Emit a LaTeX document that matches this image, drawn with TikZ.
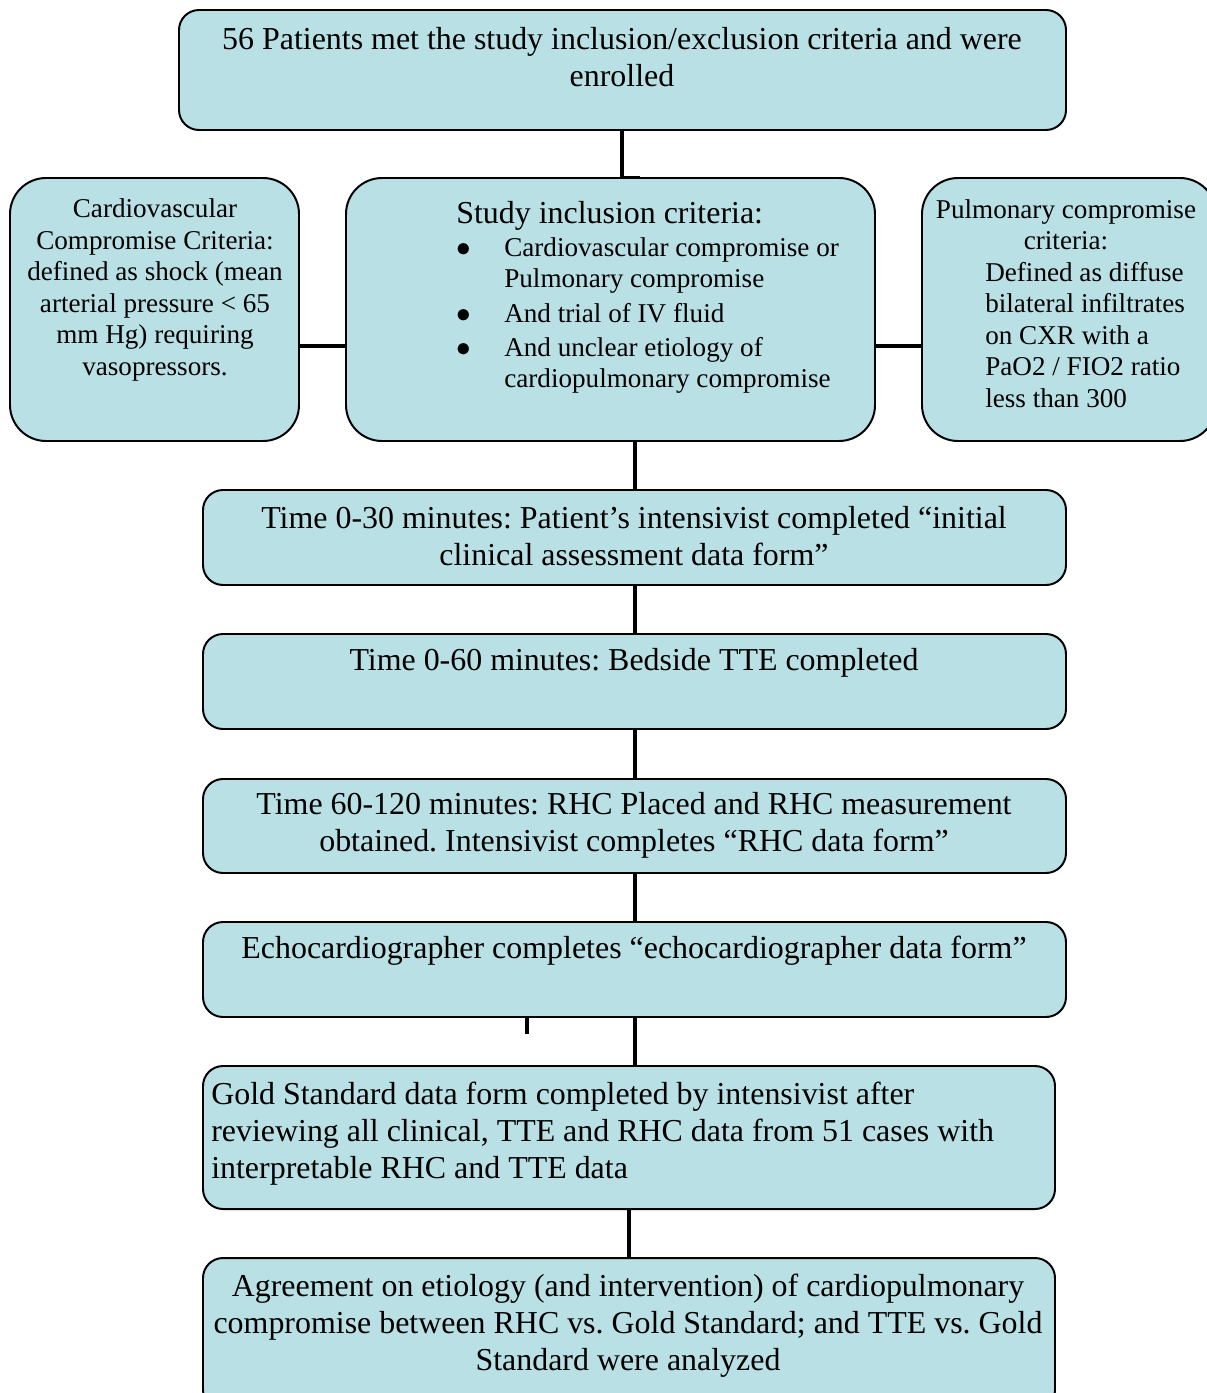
\documentclass[tikz,border=0pt]{standalone}
\usepackage{fontspec}
\setmainfont{Liberation Serif}
\usetikzlibrary{fit}
\definecolor{boxfill}{RGB}{185,224,228}
\frenchspacing
\newcommand{\blt}{\makebox[1.2cm][l]{$\bullet$}}

\begin{document}
\begin{tikzpicture}[x=0.025cm,y=-0.025cm,
  box/.style={draw,line width=1.4pt,fill=boxfill,rounded corners=0.5cm,inner sep=0pt},
  crit/.style={box,rounded corners=0.9cm},
  conn/.style={line width=3.5pt},
  bigtxt/.style={font=\fontsize{22.7}{26.4}\selectfont,align=center,inner sep=0pt},
  smalltxt/.style={font=\fontsize{19.3}{22.4}\selectfont,align=center,inner sep=0pt}]
  \useasboundingbox (0,0) rectangle (1206,1393);
  % boxes
  \node[box,fit={(179,10) (1066,130)}](enrol){};
  \node[crit,fit={(10,178) (299,441)}](cardio){};
  \node[crit,fit={(346,178) (875,441)}](incl){};
  \node[crit,fit={(922,178) (1216,441)}](pulm){};
  \node[box,fit={(203,490) (1066,585)}](t30){};
  \node[box,fit={(203,634) (1066,729)}](t60){};
  \node[box,fit={(203,779) (1066,873)}](t120){};
  \node[box,fit={(203,922) (1066,1017)}](echo){};
  \node[box,fit={(203,1066) (1055,1209)}](gold){};
  \node[box,fit={(203,1258) (1055,1410)}](agree){};
  % texts
  \node[bigtxt](enroltxt) at (622,57){56 Patients met the study inclusion/exclusion criteria and were\\enrolled};
  \node[smalltxt](cardiotxt) at (155,290){Cardiovascular\\Compromise Criteria:\\defined as shock (mean\\arterial pressure < 65\\mm Hg) requiring\\vasopressors.};
  \node[smalltxt,align=left,anchor=north west](incltxt) at (456,201){{\fontsize{22.7}{26.4}\selectfont Study inclusion criteria:}\\[1pt]
    \blt Cardiovascular compromise or\\
    \hspace*{1.2cm}Pulmonary compromise\\[2pt]
    \blt And trial of IV fluid\\[2pt]
    \blt And unclear etiology of\\
    \hspace*{1.2cm}cardiopulmonary compromise};
  \node[smalltxt](pulmhead) at (1066,225){Pulmonary compromise\\criteria:};
  \node[smalltxt,align=left,anchor=west](pulmtxt) at (985,335){Defined as diffuse\\bilateral infiltrates\\on CXR with a\\PaO2 / FIO2 ratio\\less than 300};
  \node[bigtxt](t30txt) at (634,536){Time 0-30 minutes: Patient's intensivist completed ``initial\\clinical assessment data form''};
  \node[bigtxt](t60txt) at (634,663){Time 0-60 minutes: Bedside TTE completed};
  \node[bigtxt](t120txt) at (634,825){Time 60-120 minutes: RHC Placed and RHC measurement\\obtained. Intensivist completes ``RHC data form''};
  \node[bigtxt](echotxt) at (634,951){Echocardiographer completes ``echocardiographer data form''};
  \node[bigtxt,align=left,anchor=west](goldtxt) at (211,1134){Gold Standard data form completed by intensivist after\\reviewing all clinical, TTE and RHC data from 51 cases with\\interpretable RHC and TTE data};
  \node[bigtxt](agreetxt) at (628,1326){Agreement on etiology (and intervention) of cardiopulmonary\\compromise between RHC vs. Gold Standard; and TTE vs. Gold\\Standard were analyzed};
  % connectors
  \coordinate (topx) at (622,0);
  \coordinate (spine) at (635,0);
  \coordinate (mid) at (0,346);
  \coordinate (stub) at (527,0);
  \coordinate (low) at (629,0);
  \draw[conn](enrol.south -| topx)--(incl.north -| topx);
  \draw[line width=1pt](incl.north -| topx)--++(18,0);
  \draw[conn](cardio.east |- mid)--(incl.west |- mid);
  \draw[conn](incl.east |- mid)--(pulm.west |- mid);
  \draw[conn](incl.south -| spine)--(t30.north -| spine);
  \draw[conn](t30.south -| spine)--(t60.north -| spine);
  \draw[conn](t60.south -| spine)--(t120.north -| spine);
  \draw[conn](t120.south -| spine)--(echo.north -| spine);
  \draw[conn](echo.south -| spine)--(gold.north -| spine);
  \draw[conn](echo.south -| stub)--++(0,16);
  \draw[conn](gold.south -| low)--(agree.north -| low);
\end{tikzpicture}
\end{document}
